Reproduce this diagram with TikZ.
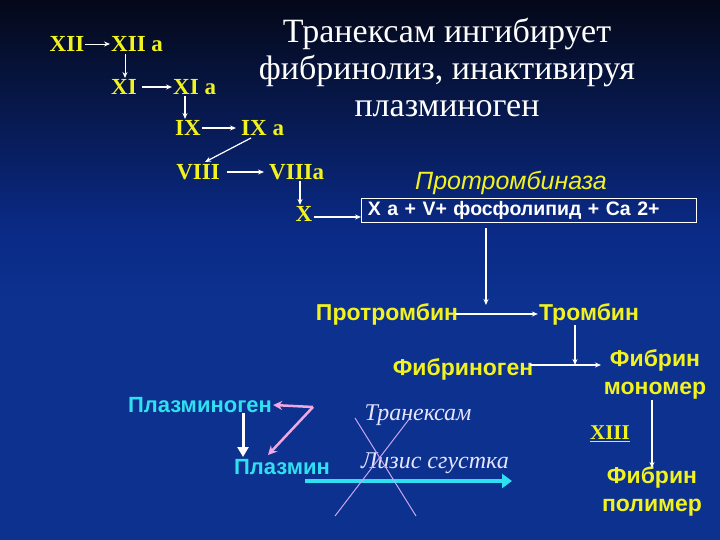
\documentclass[tikz,border=0pt]{standalone}
\usepackage{fontspec}
\setmainfont{Liberation Serif}
\setsansfont{Liberation Sans}
\usetikzlibrary{arrows.meta}
\definecolor{topc}{HTML}{040818}
\definecolor{midc}{HTML}{0A2A86}
\definecolor{botc}{HTML}{0C318F}
\definecolor{yel}{HTML}{F2F21E}
\definecolor{cyn}{HTML}{2FE0F0}
\definecolor{pnk}{HTML}{F0A8E0}
\definecolor{lav}{HTML}{C8A8F0}
\begin{document}
\begin{tikzpicture}[x=1pt,y=-1pt,
 fac/.style={text=yel,font=\fontsize{23}{26}\selectfont\bfseries},
 sy/.style={text=yel,font=\sffamily\bfseries\fontsize{23}{28}\selectfont,align=center},
 sc/.style={text=cyn,font=\sffamily\bfseries\fontsize{22}{24}\selectfont},
 it/.style={text=white!90!blue,font=\itshape\fontsize{24}{26}\selectfont},
 ar/.style={white,line width=1.2pt,-{Stealth[length=6pt,width=5pt]}},
 inner sep=1pt]
\shade[top color=topc,bottom color=midc] (0,0) rectangle (720,230);
\fill[botc] (0,229) rectangle (720,540);
\shade[top color=midc,bottom color=botc] (0,229) rectangle (720,300);
\useasboundingbox (0,0) rectangle (720,540);
\node[text=white,font=\fontsize{34}{37}\selectfont,align=center] (title) at (447,67) {Транексам ингибирует\\фибринолиз, инактивируя\\плазминоген};
\node[fac] (xii) at (67,44) {XII};
\node[fac,anchor=west] (xiia) at (110,44) {XII a};
\node[fac] (xi) at (124,87) {XI};
\node[fac,anchor=west] (xia) at (172,87) {XI a};
\node[fac] (ix) at (188,128) {IX};
\node[fac,anchor=west] (ixa) at (240,128) {IX a};
\node[fac] (viii) at (198,172) {VIII};
\node[fac,anchor=west] (viiia) at (268,172) {VIIIa};
\node[fac] (x) at (304,214) {X};
\node[text=yel,font=\sffamily\itshape\fontsize{25}{27}\selectfont] (ptb) at (511,183) {Протромбиназа};
\node[draw=white,line width=0.6pt,minimum width=335pt,minimum height=24pt,text=white,font=\sffamily\bfseries\fontsize{19.5}{21}\selectfont,anchor=west,inner xsep=6pt,text width=322pt,text height=14pt,text depth=3pt] (box) at (361,210) {X a + V+ фосфолипид + Ca 2+};
\draw[ar,line width=0.8pt] (xii.east) -- (xiia.west);
\draw[ar,line width=0.8pt] (125,54) -- (125,78);
\draw[ar] ([xshift=4pt]xi.east) -- (xia.west);
\draw[ar] (185,96) -- (185,119);
\draw[ar] (ix.east) -- ([xshift=-4pt]ixa.west);
\draw[ar] (251,138) -- (205,162);
\draw[ar] ([xshift=6pt]viii.east) -- ([xshift=-4pt]viiia.west);
\draw[ar] (300,181) -- (300,205);
\draw[ar] ([yshift=-3pt]x.east) -- ([yshift=-3pt]x.east -| box.west);
\node[sy] (prot) at (387,314) {Протромбин};
\node[sy] (thr) at (589,314) {Тромбин};
\draw[ar] (486,228) -- (486,305);
\draw[ar] ([xshift=-4pt]prot.east) -- (thr.west);
\node[sy] (fgn) at (463,369) {Фибриноген};
\node[sy] (fmon) at (655,374) {Фибрин\\мономер};
\coordinate (fm) at (601,365);
\draw[ar] ([xshift=-4pt]fgn.east |- fm) -- (fm);
\draw[ar] (575,325) -- (575,365);
\node[text=yel,font=\fontsize{21}{23}\selectfont\bfseries] (xiii) at (610,434) {\underline{XIII}};
\node[sy] (fpol) at (652,491) {Фибрин\\полимер};
\draw[ar] (652,400) -- (652,468);
\node[sc] (plg) at (200,405) {Плазминоген};
\node[sc] (plm) at (282,467) {Плазмин};
\node[it] (trx) at (418,415) {Транексам};
\node[it] (lys) at (435,463) {Лизис сгустка};
\coordinate (tp) at (313,407);
\draw[pnk,line width=2.5pt,-{Stealth[length=9pt,width=9pt]}] (tp) -- (plg.east);
\draw[pnk,line width=2.5pt,-{Stealth[length=9pt,width=9pt]}] (tp) -- (268,455);
\draw[white,line width=3pt,-{Triangle[length=10pt,width=11pt]}] (243,413) -- (243,457);
\draw[cyn,line width=4pt,-{Triangle[length=10pt,width=14pt]}] (305,481) -- (512,481);
\coordinate (c1) at (355,418); \coordinate (c2) at (416,516);
\coordinate (c3) at (410,418); \coordinate (c4) at (335,516);
\draw[lav,line width=1pt] (c1) -- (c2);
\draw[lav,line width=1pt] (c3) -- (c4);
\end{tikzpicture}
\end{document}
